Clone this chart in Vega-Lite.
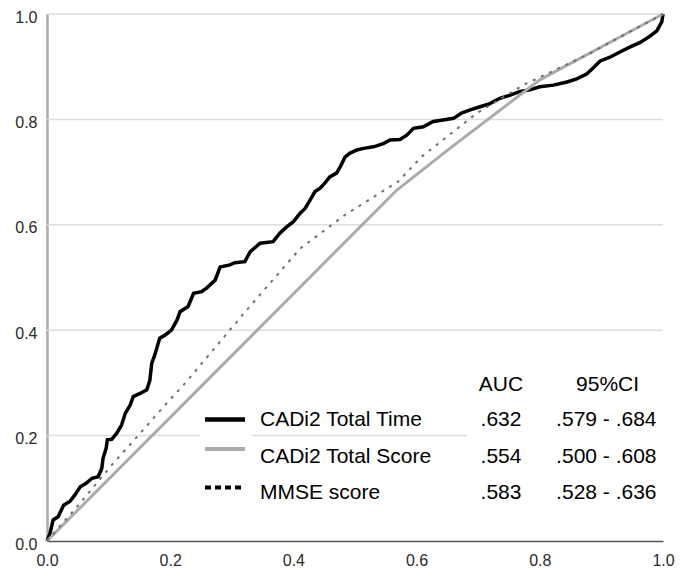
{
  "$schema": "https://vega.github.io/schema/vega-lite/v6.json",
  "width": 616,
  "height": 527,
  "autosize": {"type": "none"},
  "padding": {"left": 47, "top": 14, "right": 19, "bottom": 29},
  "background": "white",
  "config": {
    "view": {"stroke": null},
    "font": "Liberation Sans",
    "axis": {"labelFont": "Liberation Sans", "labelFontSize": 16, "labelColor": "#2a2a2a", "ticks": false, "grid": false, "title": null}
  },
  "datasets": {
    "grid": [
      {"x": 0, "x2": 1, "y": 1.0},
      {"x": 0, "x2": 1, "y": 0.8},
      {"x": 0, "x2": 1, "y": 0.6},
      {"x": 0, "x2": 1, "y": 0.4},
      {"x": 0, "x2": 0.248, "y": 0.2},
      {"x": 0.333, "x2": 0.682, "y": 0.2}
    ],
    "time": [
      {"x": 0, "y": 0}, {"x": 0.005, "y": 0.015}, {"x": 0.010, "y": 0.04}, {"x": 0.018, "y": 0.046},
      {"x": 0.027, "y": 0.068}, {"x": 0.037, "y": 0.075}, {"x": 0.045, "y": 0.087}, {"x": 0.054, "y": 0.103},
      {"x": 0.064, "y": 0.11}, {"x": 0.073, "y": 0.119}, {"x": 0.083, "y": 0.122}, {"x": 0.089, "y": 0.138},
      {"x": 0.091, "y": 0.157}, {"x": 0.096, "y": 0.176}, {"x": 0.098, "y": 0.192}, {"x": 0.105, "y": 0.193},
      {"x": 0.113, "y": 0.204}, {"x": 0.121, "y": 0.22}, {"x": 0.127, "y": 0.242}, {"x": 0.135, "y": 0.258},
      {"x": 0.140, "y": 0.274}, {"x": 0.151, "y": 0.28}, {"x": 0.162, "y": 0.287}, {"x": 0.167, "y": 0.305},
      {"x": 0.170, "y": 0.337}, {"x": 0.175, "y": 0.353}, {"x": 0.183, "y": 0.385}, {"x": 0.192, "y": 0.391},
      {"x": 0.202, "y": 0.40}, {"x": 0.211, "y": 0.419}, {"x": 0.216, "y": 0.435}, {"x": 0.229, "y": 0.445},
      {"x": 0.238, "y": 0.47}, {"x": 0.251, "y": 0.473}, {"x": 0.259, "y": 0.48}, {"x": 0.273, "y": 0.495},
      {"x": 0.281, "y": 0.52}, {"x": 0.297, "y": 0.524}, {"x": 0.305, "y": 0.528}, {"x": 0.321, "y": 0.53},
      {"x": 0.33, "y": 0.549}, {"x": 0.346, "y": 0.565}, {"x": 0.367, "y": 0.568}, {"x": 0.378, "y": 0.584},
      {"x": 0.389, "y": 0.596}, {"x": 0.40, "y": 0.606}, {"x": 0.411, "y": 0.622}, {"x": 0.419, "y": 0.631},
      {"x": 0.427, "y": 0.647}, {"x": 0.435, "y": 0.663}, {"x": 0.443, "y": 0.669}, {"x": 0.451, "y": 0.679},
      {"x": 0.459, "y": 0.691}, {"x": 0.470, "y": 0.698}, {"x": 0.476, "y": 0.71}, {"x": 0.484, "y": 0.729},
      {"x": 0.492, "y": 0.736}, {"x": 0.503, "y": 0.742}, {"x": 0.514, "y": 0.745}, {"x": 0.530, "y": 0.748},
      {"x": 0.546, "y": 0.754}, {"x": 0.557, "y": 0.761}, {"x": 0.573, "y": 0.762}, {"x": 0.584, "y": 0.770},
      {"x": 0.595, "y": 0.783}, {"x": 0.611, "y": 0.786}, {"x": 0.627, "y": 0.796}, {"x": 0.643, "y": 0.799},
      {"x": 0.66, "y": 0.802}, {"x": 0.673, "y": 0.812}, {"x": 0.687, "y": 0.818}, {"x": 0.703, "y": 0.824},
      {"x": 0.719, "y": 0.83}, {"x": 0.735, "y": 0.84}, {"x": 0.752, "y": 0.846}, {"x": 0.768, "y": 0.853},
      {"x": 0.784, "y": 0.856}, {"x": 0.80, "y": 0.862}, {"x": 0.822, "y": 0.865}, {"x": 0.844, "y": 0.871},
      {"x": 0.86, "y": 0.877}, {"x": 0.876, "y": 0.886}, {"x": 0.887, "y": 0.898}, {"x": 0.898, "y": 0.911},
      {"x": 0.914, "y": 0.918}, {"x": 0.93, "y": 0.928}, {"x": 0.946, "y": 0.937}, {"x": 0.963, "y": 0.946},
      {"x": 0.979, "y": 0.958}, {"x": 0.99, "y": 0.968}, {"x": 0.998, "y": 0.985}, {"x": 1.0, "y": 1.0}
    ],
    "score": [
      {"x": 0, "y": 0}, {"x": 0.568, "y": 0.666}, {"x": 0.654, "y": 0.745}, {"x": 0.80, "y": 0.875}, {"x": 1.0, "y": 1.0}
    ],
    "mmse": [
      {"x": 0, "y": 0}, {"x": 0.054, "y": 0.072}, {"x": 0.105, "y": 0.144}, {"x": 0.151, "y": 0.204},
      {"x": 0.194, "y": 0.261}, {"x": 0.224, "y": 0.299}, {"x": 0.324, "y": 0.438}, {"x": 0.411, "y": 0.555},
      {"x": 0.484, "y": 0.619}, {"x": 0.57, "y": 0.682}, {"x": 0.608, "y": 0.729}, {"x": 0.698, "y": 0.812},
      {"x": 0.773, "y": 0.865}, {"x": 0.881, "y": 0.925}, {"x": 0.936, "y": 0.96}, {"x": 1.0, "y": 1.0}
    ],
    "header": [
      {"x": 0.737, "y": 0.296, "label": "AUC"},
      {"x": 0.91, "y": 0.296, "label": "95%CI"}
    ],
    "rows": [
      {"x": 0.3458, "xa": 0.737, "xc": 0.908, "y": 0.23, "name": "CADi2 Total Time", "auc": ".632", "ci": ".579 - .684"},
      {"x": 0.3458, "xa": 0.737, "xc": 0.908, "y": 0.16, "name": "CADi2 Total Score", "auc": ".554", "ci": ".500 - .608"},
      {"x": 0.3458, "xa": 0.737, "xc": 0.908, "y": 0.091, "name": "MMSE score", "auc": ".583", "ci": ".528 - .636"}
    ],
    "sym_time": [{"x": 0.2565, "x2": 0.3214, "y": 0.2305}],
    "sym_score": [{"x": 0.2565, "x2": 0.3214, "y": 0.1746}],
    "sym_mmse": [{"x": 0.2565, "x2": 0.3214, "y": 0.1015}]
  },
  "layer": [
    {
      "data": {"name": "grid"},
      "mark": {"type": "rule", "color": "#dddddd", "strokeWidth": 1.5},
      "encoding": {
        "x": {"field": "x", "type": "quantitative", "scale": {"domain": [0, 1], "nice": false, "zero": false},
          "axis": {"values": [0, 0.2, 0.4, 0.6, 0.8, 1.0], "format": ".1f", "domainColor": "#555555", "domainWidth": 1.5, "labelPadding": 11, "labelFlush": false}},
        "x2": {"field": "x2"},
        "y": {"field": "y", "type": "quantitative", "scale": {"domain": [0, 1], "nice": false, "zero": false},
          "axis": {"values": [0, 0.2, 0.4, 0.6, 0.8, 1.0], "format": ".1f", "domainColor": "#aaaaaa", "domainWidth": 2.5, "labelPadding": 10, "labelOffset": 3}}
      }
    },
    {
      "data": {"name": "time"},
      "mark": {"type": "line", "color": "#000000", "strokeWidth": 3.5, "strokeJoin": "miter"},
      "encoding": {
        "x": {"field": "x", "type": "quantitative"},
        "y": {"field": "y", "type": "quantitative"}
      }
    },
    {
      "data": {"name": "score"},
      "mark": {"type": "line", "color": "#ababab", "strokeWidth": 3},
      "encoding": {
        "x": {"field": "x", "type": "quantitative"},
        "y": {"field": "y", "type": "quantitative"}
      }
    },
    {
      "data": {"name": "mmse"},
      "mark": {"type": "line", "color": "#707070", "strokeWidth": 2, "strokeDash": [3, 6]},
      "encoding": {
        "x": {"field": "x", "type": "quantitative"},
        "y": {"field": "y", "type": "quantitative"}
      }
    },
    {
      "data": {"name": "sym_time"},
      "mark": {"type": "rule", "color": "#000000", "strokeWidth": 4.5},
      "encoding": {"x": {"field": "x", "type": "quantitative"}, "x2": {"field": "x2"}, "y": {"field": "y", "type": "quantitative"}}
    },
    {
      "data": {"name": "sym_score"},
      "mark": {"type": "rule", "color": "#ababab", "strokeWidth": 4},
      "encoding": {"x": {"field": "x", "type": "quantitative"}, "x2": {"field": "x2"}, "y": {"field": "y", "type": "quantitative"}}
    },
    {
      "data": {"name": "sym_mmse"},
      "mark": {"type": "rule", "color": "#000000", "strokeWidth": 4, "strokeDash": [6, 4]},
      "encoding": {"x": {"field": "x", "type": "quantitative"}, "x2": {"field": "x2"}, "y": {"field": "y", "type": "quantitative"}}
    },
    {
      "data": {"name": "header"},
      "mark": {"type": "text", "fontSize": 21, "color": "#000000", "align": "center", "baseline": "middle", "font": "Liberation Sans"},
      "encoding": {"x": {"field": "x", "type": "quantitative"}, "y": {"field": "y", "type": "quantitative"}, "text": {"field": "label"}}
    },
    {
      "data": {"name": "rows"},
      "mark": {"type": "text", "fontSize": 21, "color": "#000000", "align": "left", "baseline": "middle", "font": "Liberation Sans"},
      "encoding": {"x": {"field": "x", "type": "quantitative"}, "y": {"field": "y", "type": "quantitative"}, "text": {"field": "name"}}
    },
    {
      "data": {"name": "rows"},
      "mark": {"type": "text", "fontSize": 21, "color": "#000000", "align": "center", "baseline": "middle", "font": "Liberation Sans"},
      "encoding": {"x": {"field": "xa", "type": "quantitative"}, "y": {"field": "y", "type": "quantitative"}, "text": {"field": "auc"}}
    },
    {
      "data": {"name": "rows"},
      "mark": {"type": "text", "fontSize": 21, "color": "#000000", "align": "center", "baseline": "middle", "font": "Liberation Sans"},
      "encoding": {"x": {"field": "xc", "type": "quantitative"}, "y": {"field": "y", "type": "quantitative"}, "text": {"field": "ci"}}
    }
  ]
}
